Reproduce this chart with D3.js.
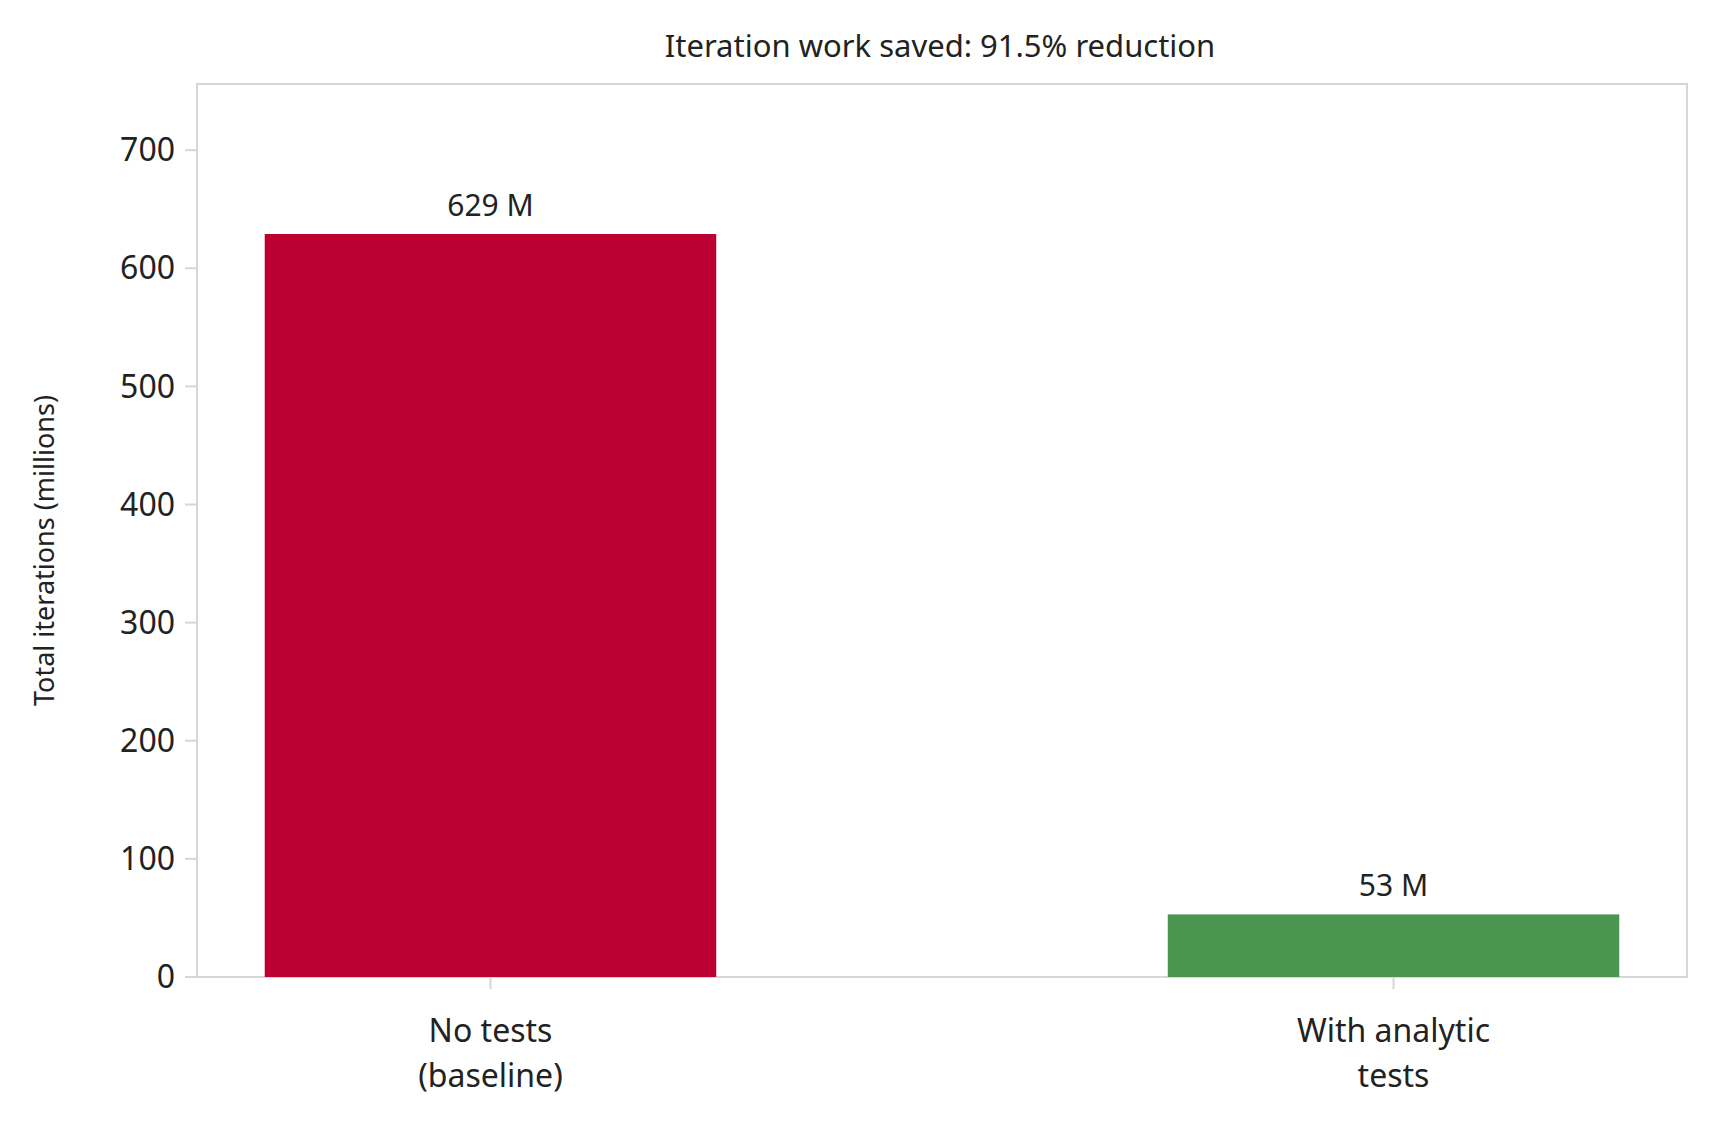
<!DOCTYPE html>
<html><head><meta charset="utf-8">
<script src="https://cdn.jsdelivr.net/npm/d3@7"></script>
<style>body{margin:0;background:#fff}text{font-family:"Noto Sans",sans-serif;fill:#222}</style>
</head><body><svg id="c" width="1716" height="1134"></svg>
<script>
const categories = [["No tests", "(baseline)"], ["With analytic", "tests"]];
const values = [629, 53];
const labels = ["629 M", "53 M"];
const colors = ["#bc0031", "#4a9650"];
const yTicks = [0, 100, 200, 300, 400, 500, 600, 700];

const svg = d3.select("#c");
const m = { l: 197, r: 1687, t: 84, b: 977 };

const x = d3.scaleBand().domain([0, 1]).range([m.l, m.r]).paddingInner(0.5).paddingOuter(0.075);
const y = d3.scaleLinear().domain([0, 756]).range([m.b, m.t]);

svg.append("rect").attr("x", m.l).attr("y", m.t).attr("width", m.r - m.l).attr("height", m.b - m.t)
    .attr("fill", "none").attr("stroke", "#d6d6d6").attr("stroke-width", 2);

svg.selectAll(".bar").data(values).join("rect")
    .attr("x", (d, i) => x(i)).attr("width", x.bandwidth())
    .attr("y", d => y(d)).attr("height", d => y(0) - y(d))
    .attr("fill", (d, i) => colors[i]);

svg.selectAll(".lbl").data(values).join("text")
    .attr("x", (d, i) => x(i) + x.bandwidth() / 2).attr("y", d => y(d) - 18)
    .attr("text-anchor", "middle").attr("font-size", 30).text((d, i) => labels[i]);

// y ticks
const yg = svg.append("g");
yTicks.forEach(t => {
    yg.append("line").attr("x1", m.l - 12).attr("x2", m.l).attr("y1", y(t)).attr("y2", y(t))
        .attr("stroke", "#d6d6d6").attr("stroke-width", 2);
    yg.append("text").attr("x", m.l - 22).attr("y", y(t)).attr("dy", "0.35em")
        .attr("text-anchor", "end").attr("font-size", 32).text(t);
});

// x ticks
categories.forEach((c, i) => {
    const cx = x(i) + x.bandwidth() / 2;
    svg.append("line").attr("x1", cx).attr("x2", cx).attr("y1", m.b).attr("y2", m.b + 12)
        .attr("stroke", "#d6d6d6").attr("stroke-width", 2);
    c.forEach((s, j) => svg.append("text").attr("x", cx).attr("y", m.b + 65 + j * 45)
        .attr("text-anchor", "middle").attr("font-size", 32).text(s));
});

svg.append("text").attr("transform", `translate(54,${(m.t + m.b) / 2 + 20}) rotate(-90)`)
    .attr("text-anchor", "middle").attr("font-size", 27).text("Total iterations (millions)");

svg.append("text").attr("x", (m.l + m.r) / 2 - 2).attr("y", 57).attr("text-anchor", "middle")
    .attr("font-size", 31).text("Iteration work saved: 91.5% reduction");
</script></body></html>
